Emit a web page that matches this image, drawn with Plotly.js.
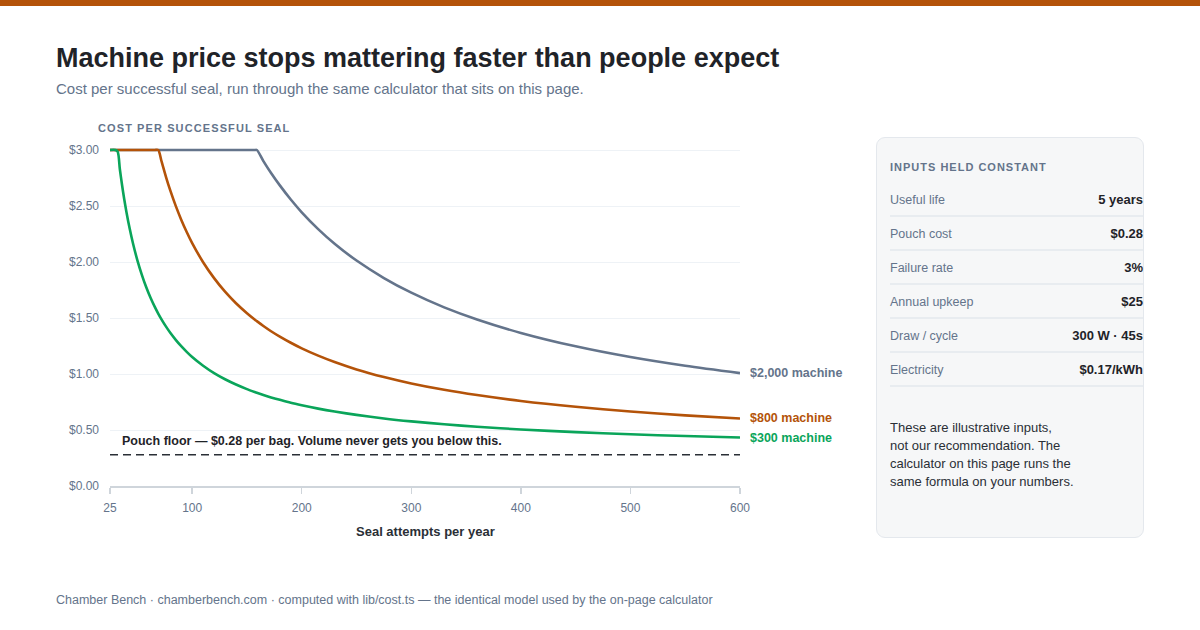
<!DOCTYPE html>
<html>
<head>
<meta charset="utf-8">
<script src="https://cdn.plot.ly/plotly-3.0.1.min.js"></script>
<style>
  html, body { margin: 0; padding: 0; background: #ffffff; }
  body { width: 1200px; height: 630px; position: relative; overflow: hidden;
         font-family: "Liberation Sans", Arial, Helvetica, sans-serif; }
  #bar { position: absolute; left: 0; top: 0; width: 1200px; height: 6px; background: #b45309; }
  #chart { position: absolute; left: 0; top: 0; width: 1200px; height: 630px; }
  .txt { position: absolute; white-space: nowrap; line-height: 1; }
  #title { left: 56px; top: 45px; font-size: 27px; font-weight: bold; color: #1f2328; }
  #subtitle { left: 56px; top: 81px; font-size: 15px; color: #64748b; }
  #yhead { left: 98px; top: 122.5px; font-size: 11px; font-weight: bold; color: #64748b; letter-spacing: 1.1px; }
  #footer { left: 56px; top: 594px; font-size: 12.5px; color: #64748b; }
  #panel { position: absolute; left: 876px; top: 137px; width: 268px; height: 401px; box-sizing: border-box;
           background: #f6f7f8; border: 1.5px solid #e4e8ed; border-radius: 9px; }
  #phead { position: absolute; left: 13px; top: 21.5px; font-size: 11px; font-weight: bold; color: #64748b;
           letter-spacing: 1px; line-height: 14px; white-space: nowrap; }
  .row { position: absolute; left: 13px; right: 0; height: 34px; border-bottom: 2px solid #e8ecf0;
         box-sizing: border-box; display: flex; justify-content: space-between; align-items: center; padding-top: 1px; }
  .row .k { font-size: 12.5px; color: #64748b; }
  .row .v { font-size: 13px; font-weight: bold; color: #1f2328; }
  #note { position: absolute; left: 13px; top: 281px; font-size: 13px; line-height: 18px; color: #2a2f36; }
</style>
</head>
<body>
<div id="chart"></div>
<div id="bar"></div>
<div class="txt" id="title">Machine price stops mattering faster than people expect</div>
<div class="txt" id="subtitle">Cost per successful seal, run through the same calculator that sits on this page.</div>
<div class="txt" id="yhead">COST PER SUCCESSFUL SEAL</div>
<div class="txt" id="footer">Chamber Bench · chamberbench.com · computed with lib/cost.ts — the identical model used by the on-page calculator</div>
<div id="panel">
  <div id="phead">INPUTS HELD CONSTANT</div>
  <div id="rows"></div>
  <div id="note">These are illustrative inputs,<br>not our recommendation. The<br>calculator on this page runs the<br>same formula on your numbers.</div>
</div>
<script>
// ---- Data ----
var attempts = [25, 30, 32, 34, 36, 38, 40, 43, 46, 50, 54, 58, 62, 66, 69, 72, 76, 80, 85, 90, 95, 100,
                110, 120, 130, 140, 150, 157, 159, 165, 172, 180, 190, 200, 215, 230, 250, 275, 300, 330, 360,
                400, 450, 500, 550, 600];

var cost300 = [3.00, 3.00, 2.986, 2.828, 2.687, 2.560, 2.447, 2.296, 2.165, 2.015, 1.888, 1.777, 1.681, 1.597,
               1.540, 1.488, 1.425, 1.368, 1.305, 1.248, 1.198, 1.152, 1.074, 1.008, 0.953, 0.906, 0.865,
               0.839, 0.832, 0.812, 0.791, 0.769, 0.743, 0.721, 0.691, 0.665, 0.635, 0.603, 0.577, 0.551, 0.529,
               0.505, 0.481, 0.462, 0.446, 0.433];

var cost800 = [3.00, 3.00, 3.00, 3.00, 3.00, 3.00, 3.00, 3.00, 3.00, 3.00, 3.00, 3.00, 3.00, 3.00,
               3.00, 2.900, 2.763, 2.639, 2.501, 2.378, 2.268, 2.169, 1.998, 1.856, 1.735, 1.632, 1.543,
               1.487, 1.472, 1.429, 1.382, 1.334, 1.279, 1.229, 1.164, 1.107, 1.041, 0.973, 0.916, 0.859, 0.812,
               0.759, 0.707, 0.665, 0.631, 0.603];

var cost2000 = [3.00, 3.00, 3.00, 3.00, 3.00, 3.00, 3.00, 3.00, 3.00, 3.00, 3.00, 3.00, 3.00, 3.00,
                3.00, 3.00, 3.00, 3.00, 3.00, 3.00, 3.00, 3.00, 3.00, 3.00, 3.00, 3.00, 3.00,
                3.00, 3.00, 2.901, 2.795, 2.684, 2.558, 2.444, 2.294, 2.163, 2.013, 1.857, 1.726, 1.595, 1.487,
                1.367, 1.247, 1.151, 1.073, 1.008];

var seriesNames = ["$2,000 machine", "$800 machine", "$300 machine"];
var pouchFloor = 0.28;
var floorLabel = "Pouch floor — $0.28 per bag. Volume never gets you below this.";

var xTickVals = [25, 100, 200, 300, 400, 500, 600];
var yTickVals = [0, 0.5, 1, 1.5, 2, 2.5, 3];
var yTickText = ["$0.00", "$0.50", "$1.00", "$1.50", "$2.00", "$2.50", "$3.00"];

var inputLabels = ["Useful life", "Pouch cost", "Failure rate", "Annual upkeep", "Draw / cycle", "Electricity"];
var inputValues = ["5 years", "$0.28", "3%", "$25", "300 W · 45s", "$0.17/kWh"];

// ---- Side panel rows ----
var rowsEl = document.getElementById('rows');
for (var i = 0; i < inputLabels.length; i++) {
  var r = document.createElement('div');
  r.className = 'row';
  r.style.top = (45 + 34 * i) + 'px';
  r.innerHTML = '<span class="k">' + inputLabels[i] + '</span><span class="v">' + inputValues[i] + '</span>';
  rowsEl.appendChild(r);
}

// ---- Chart ----
var FONT = "Liberation Sans, Arial, Helvetica, sans-serif";
var colors = ["#64748b", "#b45309", "#0aa55a"];
var costs = [cost2000, cost800, cost300];

var traces = costs.map(function (c, i) {
  return {
    type: 'scatter', mode: 'lines', x: attempts, y: c, name: seriesNames[i],
    line: { color: colors[i], width: 2.6, shape: 'spline', smoothing: 0.8 },
    hoverinfo: 'skip', cliponaxis: false
  };
});

var annotations = costs.map(function (c, i) {
  return {
    x: attempts[attempts.length - 1], y: c[c.length - 1], xref: 'x', yref: 'y',
    text: '<b>' + seriesNames[i] + '</b>', showarrow: false, xanchor: 'left', yanchor: 'middle',
    xshift: 8, font: { family: FONT, size: 12.5, color: colors[i] }
  };
});
annotations.push({
  x: attempts[0], y: pouchFloor, xref: 'x', yref: 'y', text: '<b>' + floorLabel + '</b>',
  showarrow: false, xanchor: 'left', yanchor: 'middle', xshift: 10, yshift: 14,
  font: { family: FONT, size: 12.5, color: '#1f2328' }
});
annotations.push({
  x: 0.5, y: -0.1324, xref: 'paper', yref: 'paper', text: '<b>Seal attempts per year</b>',
  showarrow: false, xanchor: 'center', yanchor: 'middle',
  font: { family: FONT, size: 13, color: '#2a2f36' }
});

var layout = {
  width: 1200, height: 630,
  margin: { l: 110, r: 460, t: 146, b: 144, pad: 0 },
  paper_bgcolor: '#ffffff', plot_bgcolor: '#ffffff',
  showlegend: false,
  font: { family: FONT, size: 12, color: '#64748b' },
  xaxis: {
    range: [25, 600], tickvals: xTickVals, ticktext: xTickVals.map(String),
    showgrid: false, zeroline: false, showline: true, linecolor: '#cfd5db', linewidth: 2,
    ticks: 'outside', ticklen: 6, tickwidth: 1.5, tickcolor: '#cfd5db', ticklabelstandoff: 4,
    tickfont: { family: FONT, size: 12, color: '#64748b' }
  },
  yaxis: {
    range: [0, 3.0357], tickvals: yTickVals, ticktext: yTickText,
    showgrid: true, gridcolor: '#eef2f6', gridwidth: 1, zeroline: false, showline: false,
    ticks: '', ticklabelstandoff: 10,
    tickfont: { family: FONT, size: 12, color: '#64748b' }
  },
  shapes: [{
    type: 'line', xref: 'x', yref: 'y', x0: attempts[0], x1: attempts[attempts.length - 1],
    y0: pouchFloor, y1: pouchFloor, line: { color: '#2a2f36', width: 1.5, dash: '8px,5px' }
  }],
  annotations: annotations
};

Plotly.newPlot('chart', traces, layout, { staticPlot: true, displayModeBar: false });
</script>
</body>
</html>
